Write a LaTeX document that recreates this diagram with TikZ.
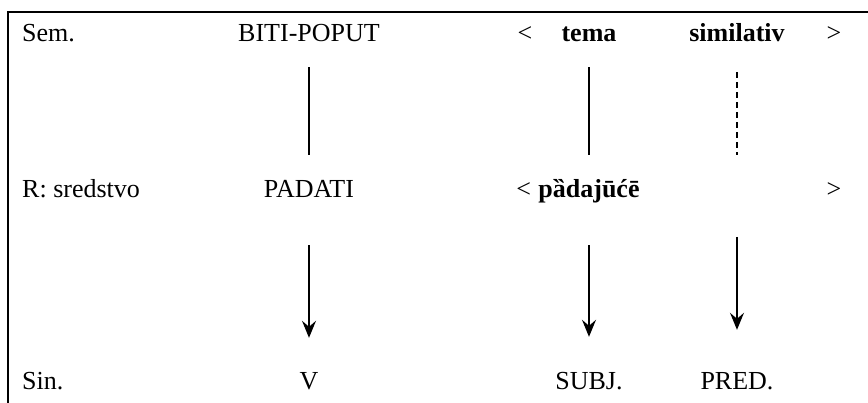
\documentclass[tikz,border=0pt]{standalone}
\usepackage{fontspec}
\setmainfont{Liberation Serif}
\usetikzlibrary{arrows.meta}
\begin{document}
\begin{tikzpicture}[x=1pt, y=-1pt,
  word/.style={inner sep=0pt, anchor=base, text height=17pt, text depth=5pt,
    font=\fontsize{26}{30}\selectfont},
  link/.style={line width=1.2pt},
  down/.style={link, -{Stealth[length=17pt,width=14pt,inset=6pt]}}]
\useasboundingbox (0,0) rectangle (868,403);

% Frame
\draw[line width=2pt] (8,403) -- (8,12) -- (868,12);

% Semantic level
\node[word, anchor=base west] (semlbl) at (22,42) {Sem.};
\node[word] (biti) at (309,42) {BITI-POPUT};
\node[word] (semopen) at (525,42) {<};
\node[word] (tema) at (589,42) {\textbf{tema}};
\node[word] (simil) at (737,42) {\textbf{similativ}};
\node[word] (semclose) at (834,42) {>};

% Role level
\node[word, anchor=base west] (rlbl) at (22,198) {R: sredstvo};
\node[word] (padati) at (309,198) {PADATI};
\node[word] (padaj) at (589,198) {\textbf{pȁdajūćē}};
\node[word, anchor=base east] (ropen) at ([xshift=-7pt]padaj.base west) {<};
\node[word] (rclose) at (834,198) {>};
\coordinate (simrole) at (737,190);

% Syntactic level
\node[word, anchor=base west] (sinlbl) at (22,389) {Sin.};
\node[word] (verb) at (309,389) {V};
\node[word] (subj) at (589,389) {SUBJ.};
\node[word] (pred) at (737,389) {PRED.};

% Links Sem. -- R
\draw[link, shorten <=20pt, shorten >=26pt] (biti.south) -- (padati.north);
\draw[link, shorten <=20pt, shorten >=26pt] (tema.south) -- (padaj.north);
\draw[link, dashed, dash pattern=on 6pt off 4pt, shorten <=25pt, shorten >=35pt] (simil.south) -- (simrole);

% Arrows R -- Sin.
\draw[down, shorten <=42pt, shorten >=34pt] (padati.south) -- (verb.north);
\draw[down, shorten <=42pt, shorten >=35pt] (padaj.south) -- (subj.north);
\draw[down, shorten <=47pt, shorten >=42pt] (simrole) -- (pred.north);

\end{tikzpicture}
\end{document}
